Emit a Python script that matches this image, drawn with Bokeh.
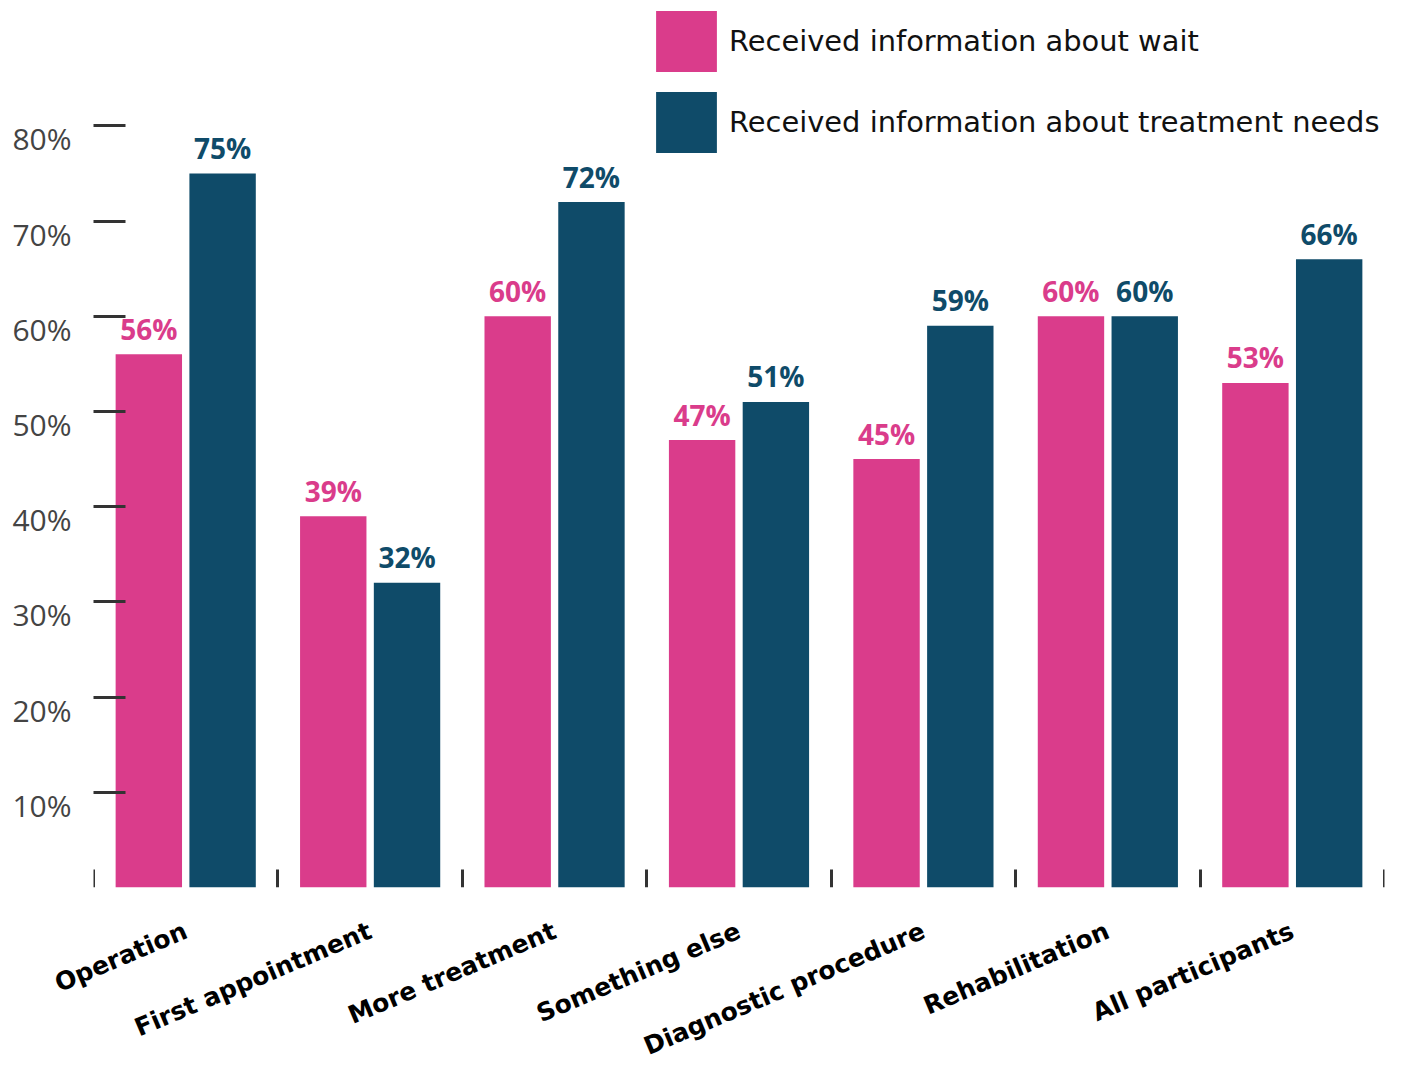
from bokeh.plotting import figure
from bokeh.models import (ColumnDataSource, FactorRange, Range1d, LinearAxis,
                          CategoricalAxis, FixedTicker, Legend, LegendItem)
from bokeh.transform import dodge
from bokeh.core.properties import value
from bokeh.embed import file_html
from bokeh.resources import INLINE

categories = ["Operation", "First appointment", "More treatment", "Something else",
              "Diagnostic procedure", "Rehabilitation", "All participants"]
wait_pct = [56, 39, 60, 47, 45, 60, 53]
needs_pct = [75, 32, 72, 51, 59, 60, 66]
series_names = ["Received information about wait",
                "Received information about treatment needs"]
y_ticks = [0, 10, 20, 30, 40, 50, 60, 70, 80]
y_tick_labels = ["0%", "10%", "20%", "30%", "40%", "50%", "60%", "70%", "80%"]

PINK = "#DA3C8B"
NAVY = "#0F4B69"
FONT = "Open Sans"
WIDE = "DejaVu Sans"

src = ColumnDataSource(dict(
    cat=categories,
    wait=wait_pct,
    needs=needs_pct,
    wait_lab=[f"{v}%" for v in wait_pct],
    needs_lab=[f"{v}%" for v in needs_pct],
))

Y_END = 92.85
p = figure(x_range=FactorRange(*categories), y_range=Range1d(0, Y_END),
           width=1411, height=1077, output_backend="svg", toolbar_location=None,
           x_axis_location=None, y_axis_location=None,
           min_border_left=93, min_border_right=27, min_border_top=3,
           min_border_bottom=190)
p.outline_line_color = None
for g in p.grid:
    g.visible = False

r1 = p.vbar(x=dodge("cat", -0.2, range=p.x_range), top="wait", width=0.36,
            source=src, fill_color=PINK, line_color=None)
r2 = p.vbar(x=dodge("cat", 0.2, range=p.x_range), top="needs", width=0.36,
            source=src, fill_color=NAVY, line_color=None)

p.text(x=dodge("cat", -0.2, range=p.x_range), y="wait", text="wait_lab", source=src,
       text_font=value(FONT), text_font_style="bold", text_font_size="28px",
       text_color=PINK, text_align="center", text_baseline="alphabetic", y_offset=-25.5)
p.text(x=dodge("cat", 0.2, range=p.x_range), y="needs", text="needs_lab", source=src,
       text_font=value(FONT), text_font_style="bold", text_font_size="28px",
       text_color=NAVY, text_align="center", text_baseline="alphabetic", y_offset=-25.5)

# boundary tick marks at the base (synthetic coordinates between categories)
xtick_axis = LinearAxis(ticker=FixedTicker(ticks=list(range(len(categories) + 1))),
                        fixed_location=0,
                        major_tick_in=18, major_tick_out=0, major_tick_line_width=3,
                        major_tick_line_color="#333333", axis_line_color=None,
                        minor_tick_line_color=None, major_label_text_font_size="1px",
                        major_label_text_color=None, major_label_standoff=0)
p.add_layout(xtick_axis, "below")

# slanted category labels
cat_axis = CategoricalAxis(major_tick_line_color=None, axis_line_color=None,
                           major_label_orientation=0.401,
                           major_label_text_font=WIDE, major_label_text_font_style="bold",
                           major_label_text_font_size="25px",
                           major_label_text_color="#000000",
                           major_label_standoff=36)
p.add_layout(cat_axis, "below")

# y ticks (inward) and labels (shifted slightly below the ticks)
shift = 13 / (884 / Y_END)
p.extra_y_ranges = {"lab": Range1d(shift, Y_END + shift)}
ytick_axis = LinearAxis(ticker=FixedTicker(ticks=y_ticks[1:]),
                        major_tick_in=32, major_tick_out=0, major_tick_line_width=3,
                        major_tick_line_color="#333333", axis_line_color=None,
                        minor_tick_line_color=None, major_label_text_font_size="1px",
                        major_label_text_color=None, major_label_standoff=0)
ylab_axis = LinearAxis(y_range_name="lab", ticker=FixedTicker(ticks=y_ticks),
                       major_label_overrides=dict(zip(y_ticks, y_tick_labels)),
                       major_tick_line_color=None, axis_line_color=None,
                       minor_tick_line_color=None,
                       major_label_text_font=FONT, major_label_text_font_size="30px",
                       major_label_text_color="#444444", major_label_standoff=16)
p.add_layout(ytick_axis, "left")
p.add_layout(ylab_axis, "left")

legend = Legend(items=[LegendItem(label=series_names[0], renderers=[r1]),
                       LegendItem(label=series_names[1], renderers=[r2])],
                location=(555, 884 - 157), padding=0, margin=0, spacing=5,
                glyph_width=76, glyph_height=76, label_standoff=5,
                border_line_color=None, background_fill_alpha=0,
                label_text_font=WIDE, label_text_font_size="28.9px",
                label_text_color="#111111")
p.add_layout(legend)

open("out.html", "w").write(file_html(p, INLINE))
